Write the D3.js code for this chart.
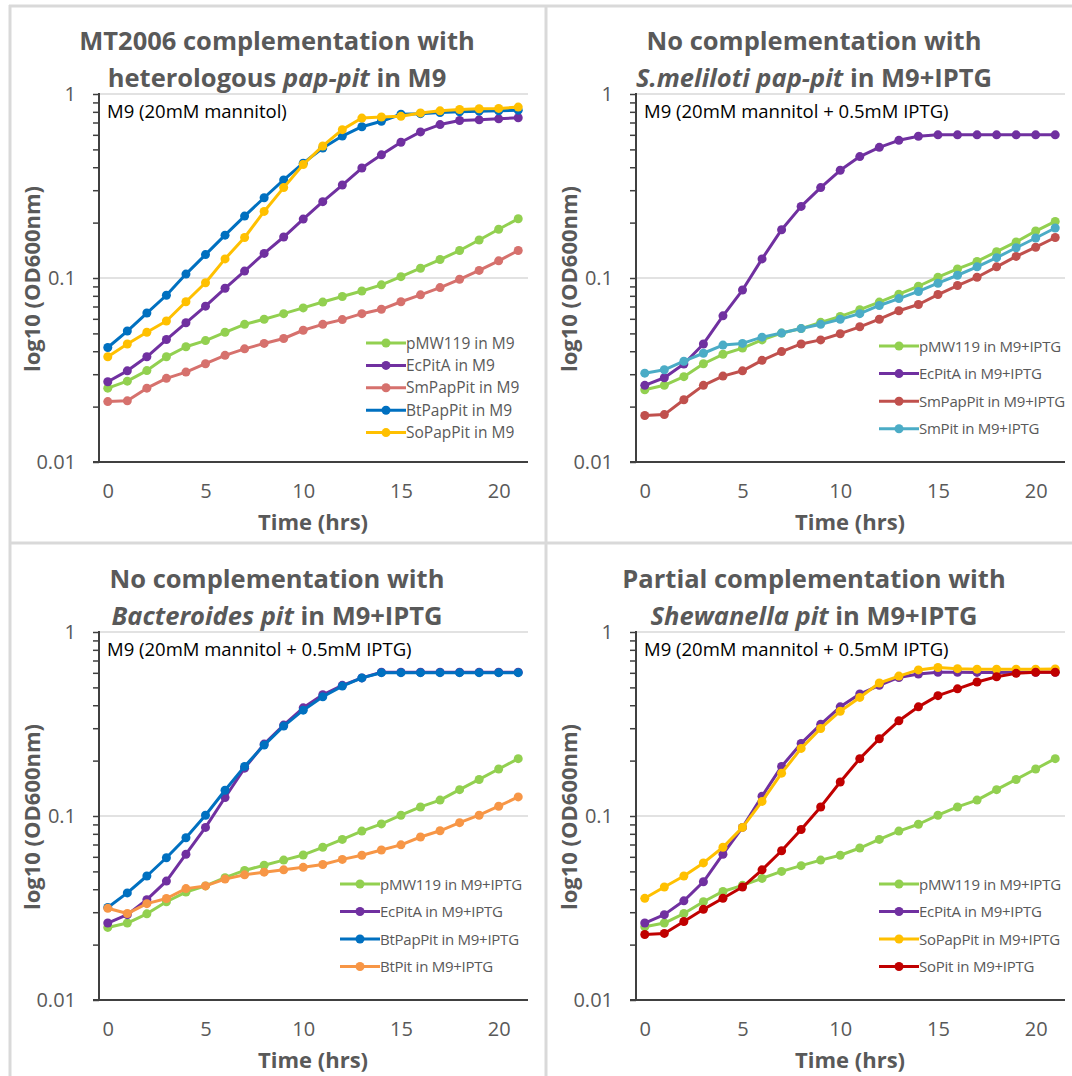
<!DOCTYPE html>
<html>
<head>
<meta charset="utf-8">
<script src="https://cdn.jsdelivr.net/npm/d3@7"></script>
<style>
  body { margin: 0; background: #fff; }
  svg text { font-family: "Open Sans", "Noto Sans", sans-serif; }
</style>
</head>
<body>
<svg id="chart" width="1072" height="1076"></svg>
<script>
// time points (hrs)
var hours = [0,1,2,3,4,5,6,7,8,9,10,11,12,13,14,15,16,17,18,19,20,21];

// panel 1 : M9
var p1_pMW119 = [0.0252,0.0275,0.0314,0.0373,0.0423,0.0457,0.0507,0.056,0.0597,0.064,0.0688,0.074,0.0793,0.085,0.0918,0.1017,0.113,0.126,0.141,0.161,0.184,0.21];
var p1_EcPitA = [0.0273,0.0313,0.0373,0.0463,0.0571,0.0703,0.0879,0.109,0.136,0.167,0.209,0.26,0.32,0.396,0.467,0.547,0.622,0.682,0.718,0.724,0.733,0.743];
var p1_SmPapPit = [0.0213,0.0215,0.0252,0.0285,0.0308,0.0342,0.038,0.0412,0.0441,0.0469,0.052,0.056,0.0594,0.064,0.0676,0.0743,0.081,0.0887,0.0984,0.11,0.124,0.141];
var p1_BtPapPit = [0.0419,0.0515,0.0645,0.0806,0.105,0.134,0.171,0.217,0.273,0.341,0.421,0.509,0.591,0.664,0.711,0.776,0.782,0.793,0.8,0.807,0.81,0.817];
var p1_SoPapPit = [0.0373,0.0438,0.0507,0.0584,0.0743,0.0942,0.127,0.166,0.23,0.31,0.414,0.522,0.64,0.74,0.75,0.756,0.789,0.81,0.824,0.831,0.835,0.849];

// panel 2 : S.meliloti, M9+IPTG
var p2_pMW119 = [0.0247,0.0261,0.0291,0.0342,0.0385,0.0416,0.0461,0.0502,0.0531,0.0574,0.0618,0.0673,0.074,0.0817,0.0902,0.101,0.112,0.123,0.139,0.157,0.18,0.203];
var p2_EcPitA = [0.0261,0.0287,0.0341,0.0438,0.0623,0.086,0.127,0.183,0.245,0.31,0.385,0.457,0.513,0.56,0.589,0.6,0.6,0.6,0.6,0.6,0.6,0.6];
var p2_SmPapPit = [0.0179,0.0181,0.0218,0.0261,0.0293,0.0313,0.0357,0.0398,0.0438,0.0461,0.0498,0.0543,0.0597,0.0664,0.0718,0.0813,0.091,0.101,0.115,0.131,0.147,0.166];
var p2_SmPit = [0.0304,0.0317,0.0353,0.039,0.0432,0.0441,0.0477,0.0502,0.0531,0.056,0.0597,0.064,0.0709,0.0773,0.0845,0.0937,0.1035,0.115,0.129,0.146,0.165,0.187];

// panel 3 : Bacteroides, M9+IPTG
var p3_pMW119 = [0.0248,0.0262,0.0294,0.0342,0.0386,0.0417,0.0462,0.0506,0.054,0.0576,0.0614,0.0676,0.0746,0.0828,0.0906,0.101,0.112,0.122,0.139,0.158,0.18,0.205];
var p3_EcPitA = [0.0262,0.0291,0.0351,0.0443,0.062,0.0867,0.126,0.182,0.246,0.312,0.387,0.456,0.513,0.563,0.604,0.604,0.604,0.604,0.604,0.604,0.604,0.604];
var p3_BtPapPit = [0.0318,0.0382,0.0472,0.0593,0.0762,0.101,0.138,0.186,0.243,0.308,0.376,0.445,0.508,0.563,0.601,0.601,0.601,0.601,0.601,0.601,0.601,0.601];
var p3_BtPit = [0.0315,0.0295,0.0334,0.0356,0.0403,0.0417,0.0454,0.0479,0.0495,0.051,0.0526,0.0545,0.0581,0.0612,0.0653,0.0697,0.0769,0.0831,0.092,0.101,0.113,0.127];

// panel 4 : Shewanella, M9+IPTG
var p4_pMW119 = [0.025,0.0262,0.0295,0.0342,0.0389,0.042,0.0458,0.05,0.0537,0.0576,0.0612,0.067,0.0746,0.0828,0.0902,0.101,0.112,0.122,0.139,0.158,0.18,0.205];
var p4_EcPitA = [0.0262,0.0291,0.0346,0.0439,0.062,0.0867,0.128,0.186,0.248,0.315,0.392,0.46,0.513,0.566,0.591,0.604,0.604,0.603,0.603,0.604,0.604,0.604];
var p4_SoPapPit = [0.0357,0.0411,0.0472,0.0556,0.0676,0.0867,0.12,0.171,0.233,0.299,0.371,0.441,0.528,0.576,0.622,0.641,0.632,0.628,0.628,0.628,0.628,0.63];
var p4_SoPit = [0.0227,0.023,0.0267,0.0311,0.0357,0.0411,0.051,0.0647,0.0845,0.112,0.153,0.205,0.263,0.329,0.392,0.451,0.491,0.535,0.571,0.596,0.604,0.604];

// axis ticks
var xTickValues = [0,5,10,15,20];
var yMajorTicks = [0.01,0.1,1];
var yTickLabels = ["0.01","0.1","1"];

var panels = [
  { col:0, row:0,
    title:[[["MT2006 complementation with",false]],[["heterologous ",false],["pap-pit",true],[" in M9",false]]],
    note:"M9 (20mM mannitol)",
    legendX:366, legendY:343, legendStep:22.4, legendFont:15.5,
    series:[
      {name:"pMW119 in M9", values:p1_pMW119, color:"#92d050"},
      {name:"EcPitA in M9", values:p1_EcPitA, color:"#7030a0"},
      {name:"SmPapPit in M9", values:p1_SmPapPit, color:"#d6716d"},
      {name:"BtPapPit in M9", values:p1_BtPapPit, color:"#0070c0"},
      {name:"SoPapPit in M9", values:p1_SoPapPit, color:"#ffc000"}
    ]},
  { col:1, row:0,
    title:[[["No complementation with",false]],[["S.meliloti pap-pit",true],[" in M9+IPTG",false]]],
    note:"M9 (20mM mannitol + 0.5mM IPTG)",
    legendX:342, legendY:346, legendStep:27.6, legendFont:15,
    series:[
      {name:"pMW119 in M9+IPTG", values:p2_pMW119, color:"#92d050"},
      {name:"EcPitA in M9+IPTG", values:p2_EcPitA, color:"#7030a0"},
      {name:"SmPapPit in M9+IPTG", values:p2_SmPapPit, color:"#c0504d"},
      {name:"SmPit in M9+IPTG", values:p2_SmPit, color:"#4bacc6"}
    ]},
  { col:0, row:1,
    title:[[["No complementation with",false]],[["Bacteroides pit",true],[" in M9+IPTG",false]]],
    note:"M9 (20mM mannitol + 0.5mM IPTG)",
    legendX:340, legendY:346, legendStep:27.5, legendFont:15,
    series:[
      {name:"pMW119 in M9+IPTG", values:p3_pMW119, color:"#92d050"},
      {name:"EcPitA in M9+IPTG", values:p3_EcPitA, color:"#7030a0"},
      {name:"BtPapPit in M9+IPTG", values:p3_BtPapPit, color:"#0070c0"},
      {name:"BtPit in M9+IPTG", values:p3_BtPit, color:"#f79646"}
    ]},
  { col:1, row:1,
    title:[[["Partial complementation with",false]],[["Shewanella pit",true],[" in M9+IPTG",false]]],
    note:"M9 (20mM mannitol + 0.5mM IPTG)",
    legendX:342, legendY:346, legendStep:27.5, legendFont:15,
    series:[
      {name:"pMW119 in M9+IPTG", values:p4_pMW119, color:"#92d050"},
      {name:"EcPitA in M9+IPTG", values:p4_EcPitA, color:"#7030a0"},
      {name:"SoPapPit in M9+IPTG", values:p4_SoPapPit, color:"#ffc000"},
      {name:"SoPit in M9+IPTG", values:p4_SoPit, color:"#c00000"}
    ]}
];

var svg = d3.select("#chart");
var frame = "#d9d9d9", textGrey = "#595959", axisCol = "#404040";

// chart borders
svg.append("line").attr("x1",9).attr("x2",1072).attr("y1",6).attr("y2",6).attr("stroke",frame).attr("stroke-width",3);
svg.append("line").attr("x1",10).attr("x2",10).attr("y1",5).attr("y2",1076).attr("stroke",frame).attr("stroke-width",3);
svg.append("line").attr("x1",546).attr("x2",546).attr("y1",5).attr("y2",1076).attr("stroke",frame).attr("stroke-width",3);
svg.append("line").attr("x1",9).attr("x2",1072).attr("y1",543).attr("y2",543).attr("stroke",frame).attr("stroke-width",3);

var x = d3.scaleLinear().domain([-0.5,21.5]).range([98,528]);
var y = d3.scaleLog().domain([0.01,1]).range([462,94]);

var minorTicks = [];
[0.01,0.1].forEach(function(base){
  for(var k=1;k<10;k++){ minorTicks.push(base*k); }
});
minorTicks.push(1);

var line = d3.line().x(function(d){return x(d[0]);}).y(function(d){return y(d[1]);});

panels.forEach(function(p){
  var g = svg.append("g").attr("transform","translate("+(p.col*537)+","+(p.row*538)+")");

  // title
  p.title.forEach(function(parts,li){
    var t = g.append("text").attr("x",277).attr("y",50+li*37)
      .attr("text-anchor","middle").attr("font-size",25.5).attr("font-weight","bold").attr("fill",textGrey);
    parts.forEach(function(s){
      t.append("tspan").text(s[0]).attr("font-style",s[1]?"italic":"normal");
    });
  });

  // gridlines
  g.selectAll(".grid").data([0.1,1]).enter().append("line")
    .attr("x1",x.range()[0]).attr("x2",x.range()[1])
    .attr("y1",function(d){return y(d);}).attr("y2",function(d){return y(d);})
    .attr("stroke","#d9d9d9").attr("stroke-width",1.5);

  // y axis
  var yAxis = d3.axisLeft(y).tickValues(minorTicks).tickSize(6).tickPadding(17)
    .tickFormat(function(d){
      var i = yMajorTicks.findIndex(function(m){return Math.abs(m-d)<1e-9;});
      return i>=0 ? yTickLabels[i] : "";
    });
  var ya = g.append("g").attr("transform","translate(99,0)").call(yAxis);
  ya.select(".domain").remove();
  ya.selectAll(".tick line").attr("stroke",axisCol).attr("stroke-width",1.5);
  ya.selectAll(".tick text").attr("fill",textGrey).attr("font-size",20).style("font-family","'Open Sans', sans-serif");
  g.append("line").attr("x1",99).attr("x2",99).attr("y1",y(1)-1).attr("y2",y(0.01))
    .attr("stroke",axisCol).attr("stroke-width",2);

  // x axis
  var xAxis = d3.axisBottom(x).tickValues(xTickValues).tickSize(0).tickPadding(22);
  var xa = g.append("g").attr("transform","translate(0,462)").call(xAxis);
  xa.select(".domain").remove();
  xa.selectAll(".tick text").attr("fill",textGrey).attr("font-size",20).style("font-family","'Open Sans', sans-serif");
  g.append("line").attr("x1",93).attr("x2",x.range()[1]).attr("y1",462).attr("y2",462)
    .attr("stroke",axisCol).attr("stroke-width",2);

  // axis titles
  g.append("text").attr("x",313).attr("y",530).attr("text-anchor","middle")
    .attr("font-size",22).attr("font-weight","bold").attr("fill",textGrey).text("Time (hrs)");
  g.append("text").attr("transform","translate(40,279) rotate(-90)").attr("text-anchor","middle")
    .attr("font-size",22).attr("font-weight","bold").attr("fill",textGrey).text("log10 (OD600nm)");

  // medium note
  g.append("text").attr("x",107).attr("y",118).attr("font-size",18.5).attr("fill","#000").text(p.note);

  // series
  p.series.forEach(function(s){
    var pts = hours.map(function(h,i){return [h,s.values[i]];});
    g.append("path").datum(pts).attr("d",line).attr("fill","none")
      .attr("stroke",s.color).attr("stroke-width",3).attr("stroke-linejoin","round");
    g.selectAll(null).data(pts).enter().append("circle")
      .attr("cx",function(d){return x(d[0]);}).attr("cy",function(d){return y(d[1]);})
      .attr("r",4.5).attr("fill",s.color);
  });

  // legend
  var leg = g.selectAll(".leg").data(p.series).enter().append("g")
    .attr("transform",function(d,i){return "translate("+p.legendX+","+(p.legendY+i*p.legendStep)+")";});
  leg.append("line").attr("x1",0).attr("x2",40).attr("stroke",function(d){return d.color;}).attr("stroke-width",3);
  leg.append("circle").attr("cx",20).attr("r",4.5).attr("fill",function(d){return d.color;});
  leg.append("text").attr("x",40).attr("y",5.5).attr("font-size",p.legendFont)
    .attr("letter-spacing",p.legendFont<15.5?-0.25:0).attr("fill",textGrey)
    .text(function(d){return d.name;});
});
</script>
</body>
</html>
